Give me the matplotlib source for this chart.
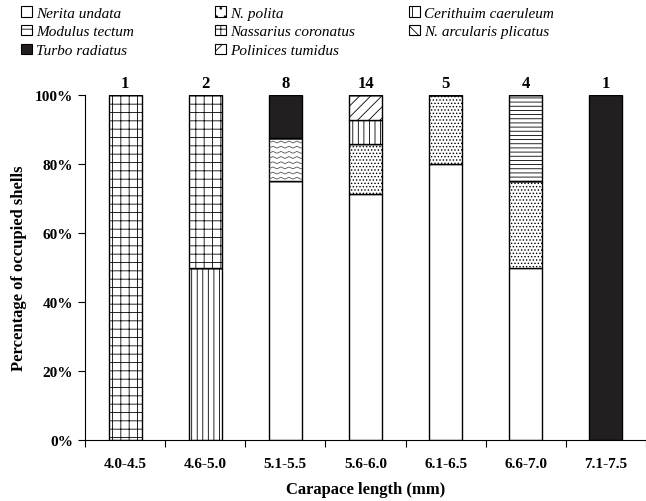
import numpy as np
import matplotlib.pyplot as plt
from matplotlib.patches import Patch
from matplotlib import rcParams

# Police type Times pour tout le graphique
rcParams['font.family'] = 'Liberation Serif'
rcParams['hatch.linewidth'] = 0.6
rcParams['hatch.color'] = '#333333'

# Classes de taille et effectifs
classes = ['4.0-4.5', '4.6-5.0', '5.1-5.5', '5.6-6.0', '6.1-6.5', '6.6-7.0', '7.1-7.5']
effectifs = [1, 2, 8, 14, 5, 4, 1]

# Pourcentages par espèce de coquille (ordre d'empilement de bas en haut)
nerita_undata = [0, 0, 75.0, 71.4, 80.0, 50.0, 0]
n_polita = [0, 0, 0, 14.3, 20.0, 25.0, 0]
n_arcularis = [0, 0, 12.5, 0, 0, 0, 0]
cerithium = [0, 50.0, 0, 7.1, 0, 0, 0]
polinices = [0, 0, 0, 7.2, 0, 0, 0]
modulus = [0, 0, 0, 0, 0, 25.0, 0]
nassarius = [100.0, 50.0, 0, 0, 0, 0, 0]
turbo = [0, 0, 12.5, 0, 0, 0, 100.0]

especes = [
    ('Nerita undata', nerita_undata, 'white', '', ''),
    ('N. polita', n_polita, 'white', '.....', '..'),
    ('N. arcularis plicatus', n_arcularis, 'white', '', '\\\\'),
    ('Cerithuim caeruleum', cerithium, 'white', '|||', '||'),
    ('Polinices tumidus', polinices, 'white', '///', '/'),
    ('Modulus tectum', modulus, 'white', '----', '--'),
    ('Nassarius coronatus', nassarius, 'white', '++', '++'),
    ('Turbo radiatus', turbo, '#231f20', '', ''),
]

fig = plt.figure(figsize=(6.46, 5.02), dpi=100)
ax = fig.add_axes([85 / 646, 1 - 441 / 502, 1 - 85 / 646, 345 / 502])

x = np.arange(1, len(classes) + 1)
largeur = 0.41
bas = np.zeros(len(classes))
barres = {}
for nom, vals, couleur, motif, _ in especes:
    vals = np.array(vals)
    b = ax.bar(x, vals, largeur, bottom=bas, color=couleur, edgecolor='black',
               linewidth=1.0, hatch=motif)
    barres[nom] = (b, vals, bas.copy())
    bas += vals

# Motif ondulé pour N. arcularis plicatus (tracé à la main, découpé par la barre)
b, vals, b0 = barres['N. arcularis plicatus']
for rect, v, y0 in zip(b, vals, b0):
    if v <= 0:
        continue
    xs = np.linspace(rect.get_x() - 0.05, rect.get_x() + rect.get_width() + 0.05, 60)
    for yy in np.arange(y0 + 0.6, y0 + v + 1.5, 1.5):
        ys = yy + 0.55 * np.abs(((xs - xs[0]) / 0.05) % 2 - 1)
        ligne, = ax.plot(xs, ys, color='#555555', lw=0.6)
        ligne.set_clip_path(rect)

# Effectifs au-dessus des barres
for xi, n in zip(x, effectifs):
    ax.text(xi, 101.2, str(n), ha='center', va='bottom', fontsize=12, fontweight='bold')

ax.set_xlim(0.5, 7.5)
ax.set_ylim(0, 100)
ax.spines['top'].set_visible(False)
ax.spines['right'].set_visible(False)

ax.set_xticks(np.arange(0.5, 8.0, 1.0))
ax.set_xticklabels([])
ax.set_xticks(x, minor=True)
ax.set_xticklabels(classes, minor=True, fontsize=11, fontweight='bold')
ax.tick_params(axis='x', which='minor', length=0, pad=12)
ax.tick_params(axis='x', which='major', length=5, direction='out')

ax.set_yticks(np.arange(0, 101, 20))
ax.set_yticklabels([f'{v}%' for v in range(0, 101, 20)], fontsize=11, fontweight='bold')
ax.tick_params(axis='y', length=5, direction='out')

ax.set_xlabel('Carapace length (mm)', fontsize=12, fontweight='bold', labelpad=8)
ax.set_ylabel('Percentage of occupied shells', fontsize=12, fontweight='bold', labelpad=6)

# Légende en trois colonnes
def poignee(nom):
    for n, vals, couleur, motif, motif_leg in especes:
        if n == nom:
            return Patch(facecolor=couleur, edgecolor='black', hatch=motif_leg, linewidth=0.8)

colonnes = [
    (['Nerita undata', 'Modulus tectum', 'Turbo radiatus'], 18),
    (['N. polita', 'Nassarius coronatus', 'Polinices tumidus'], 212),
    (['Cerithuim caeruleum', 'N. arcularis plicatus'], 406),
]
for noms, x0 in colonnes:
    fig.legend([poignee(n) for n in noms], noms, loc='upper left',
               bbox_to_anchor=(x0 / 646, 1 - 4 / 502), frameon=False,
               prop={'style': 'italic', 'size': 11}, handlelength=0.7,
               handleheight=0.7, handletextpad=0.3, labelspacing=0.33,
               borderaxespad=0, borderpad=0.2)

fig.savefig('out.png', dpi=100)
